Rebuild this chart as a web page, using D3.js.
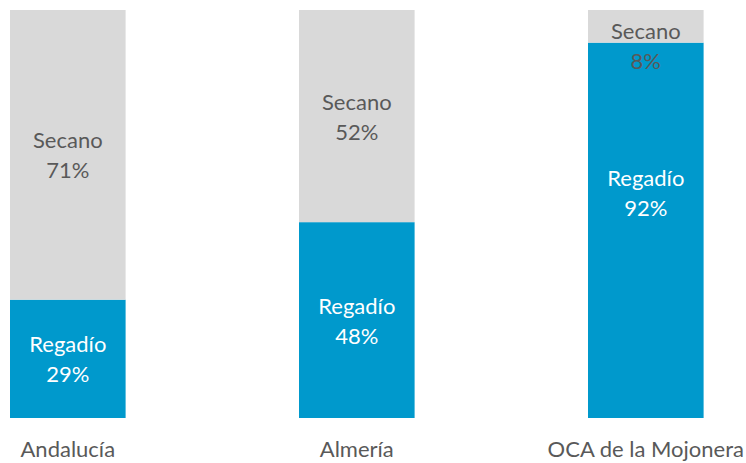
<!DOCTYPE html>
<html>
<head>
<meta charset="utf-8">
<script src="https://cdn.jsdelivr.net/npm/d3@7"></script>
<style>
  body { margin: 0; background: #fff; }
  svg { display: block; font-family: Lato, "Open Sans", sans-serif; }
</style>
</head>
<body>
<svg width="746" height="463"></svg>
<script>
// data
var categories = ["Andalucía", "Almería", "OCA de la Mojonera"];
var regadio = [29, 48, 92];
var secano = [71, 52, 8];
var seriesNames = ["Regadío", "Secano"];

var svg = d3.select("svg");

var rows = categories.map((c, i) => ({ cat: c, "Regadío": regadio[i], "Secano": secano[i] }));
var stacked = d3.stack().keys(seriesNames)(rows);

var x = d3.scaleBand()
    .domain(categories)
    .range([10, 703.6])
    .paddingInner(0.6)
    .paddingOuter(0);

var y = d3.scaleLinear()
    .domain([0, 100])
    .range([418, 10]);

var color = d3.scaleOrdinal()
    .domain(seriesNames)
    .range(["#0099cc", "#d9d9d9"]);

var textColor = { "Regadío": "#ffffff", "Secano": "#595959" };

// bars
var layer = svg.selectAll("g.layer")
    .data(stacked)
    .enter().append("g")
    .attr("class", "layer")
    .attr("fill", d => color(d.key));

layer.selectAll("rect")
    .data(d => d)
    .enter().append("rect")
    .attr("x", d => x(d.data.cat))
    .attr("y", d => y(d[1]))
    .attr("width", x.bandwidth())
    .attr("height", d => y(d[0]) - y(d[1]));

// labels inside the segments
stacked.forEach(function(s) {
    s.forEach(function(d) {
        var top = y(d[1]), bottom = y(d[0]);
        var h = bottom - top;
        var small = h < 60;
        // small segments: label sits on the lower edge; tall ones stay near the top
        var cy = small ? bottom + 2.5 : Math.min((top + bottom) / 2, top + 150);
        var cx = x(d.data.cat) + x.bandwidth() / 2;
        var t = svg.append("text")
            .attr("x", cx)
            .attr("y", cy - 6.5)
            .attr("text-anchor", "middle")
            .style("font-size", "22px")
            .style("fill", small ? "#595959" : textColor[s.key]);
        t.append("tspan")
            .attr("x", cx)
            .text(s.key);
        t.append("tspan")
            .attr("x", cx)
            .attr("dy", 30)
            .text((d[1] - d[0]) + "%");
    });
});

// category axis
var xAxis = d3.axisBottom(x).tickSize(0).tickPadding(0);
var gx = svg.append("g")
    .attr("class", "x axis")
    .attr("transform", "translate(0,440)")
    .call(xAxis);
gx.select(".domain").remove();
gx.selectAll("text")
    .attr("dy", "0.75em")
    .style("font-family", "Lato, 'Open Sans', sans-serif")
    .style("font-size", "22px")
    .style("fill", "#595959");
</script>
</body>
</html>
